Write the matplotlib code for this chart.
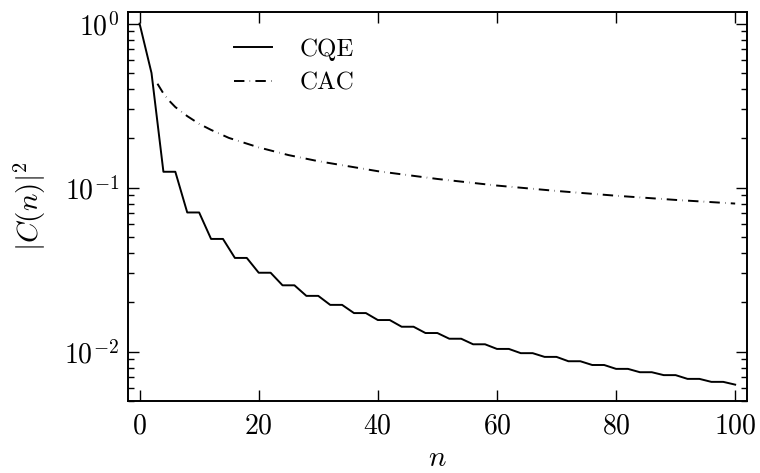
import matplotlib
matplotlib.use("Agg")
import matplotlib.pyplot as plt

plt.rcParams["font.family"] = "serif"
plt.rcParams["font.serif"] = ["cmr10", "DejaVu Serif"]
plt.rcParams["mathtext.fontset"] = "cm"
plt.rcParams["axes.formatter.use_mathtext"] = True
plt.rcParams["axes.unicode_minus"] = False
plt.rcParams["lines.scale_dashes"] = False

# CQE: values at n = 0, 2, 4, ..., 100
n_cqe = list(range(0, 101, 2))
cqe = [1.0, 0.5,
       0.125, 0.125, 0.0706, 0.0706, 0.0487, 0.0487, 0.0373, 0.0373,
       0.0303, 0.0303, 0.0254, 0.0254, 0.0219, 0.0219, 0.0193, 0.0193,
       0.0172, 0.0172, 0.0156, 0.0156, 0.0142, 0.0142, 0.0130, 0.0130,
       0.0120, 0.0120, 0.0111, 0.0111, 0.0104, 0.0104, 0.0098, 0.0098,
       0.0093, 0.0093, 0.00875, 0.00875, 0.0083, 0.0083, 0.00786, 0.00786,
       0.0075, 0.0075, 0.0072, 0.0072, 0.00683, 0.00683, 0.00655, 0.00655,
       0.0063]

# CAC
n_cac = [3, 4, 5, 6, 8, 10, 12, 15, 20, 25, 30, 40, 50, 60, 70, 80, 90, 100]
cac = [0.43, 0.375, 0.338, 0.31, 0.273, 0.245, 0.225, 0.201, 0.176, 0.158,
       0.145, 0.126, 0.113, 0.103, 0.0955, 0.0893, 0.0842, 0.080]

fig = plt.figure(figsize=(7.6, 4.73), dpi=100)
ax = fig.add_axes([0.168, 0.152, 0.815, 0.823])

ax.plot(n_cqe, cqe, color="black", lw=1.4, label="CQE")
ax.plot(n_cac, cac, color="black", lw=1.4, linestyle=(0, (7.5, 3.8, 0.3, 3.8)),
        label="CAC")

ax.set_yscale("log")
ax.set_xlim(-2, 102)
ax.set_ylim(0.005, 1.18)
ax.set_xticks([0, 20, 40, 60, 80, 100])

ax.tick_params(which="both", direction="in", top=True, right=True,
               labelsize=20, width=1)
ax.tick_params(which="major", length=8)
ax.tick_params(axis="x", which="major", pad=9)
ax.tick_params(axis="y", which="major", pad=6)
ax.tick_params(which="minor", length=4)
for s in ax.spines.values():
    s.set_linewidth(1.4)

ax.set_xlabel("$n$", fontsize=21, labelpad=4)
ax.set_ylabel("$|C(n)|^2$", fontsize=21, labelpad=12)

ax.legend(loc="upper left", bbox_to_anchor=(0.136, 0.99), frameon=False,
          fontsize=18, handlelength=1.52, labelspacing=0.45, handletextpad=1.1)

fig.savefig("out.png", dpi=100)
